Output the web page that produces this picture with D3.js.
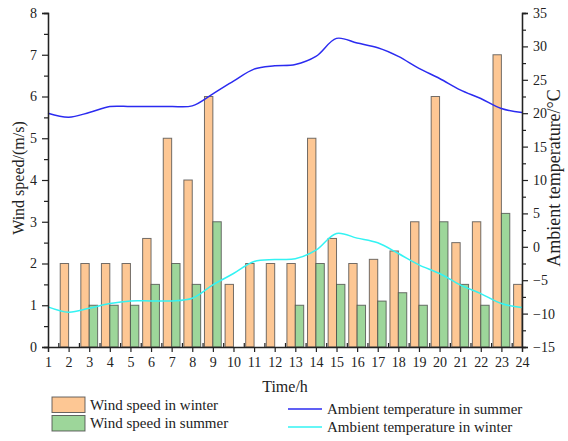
<!DOCTYPE html>
<html>
<head>
<meta charset="utf-8">
<script src="https://cdn.jsdelivr.net/npm/d3@7"></script>
<style>
  html, body { margin: 0; padding: 0; background: #fff; }
</style>
</head>
<body>
<svg id="chart" width="568" height="441"></svg>
<script>
// Hourly data
const hours = d3.range(1, 25);
const windWinter = [0, 2, 2, 2, 2, 2.6, 5, 4, 6, 1.5, 2, 2, 2, 5, 2.6, 2, 2.1, 2.3, 3, 6, 2.5, 3, 7, 1.5];
const windSummer = [0, 0, 1, 1, 1, 1.5, 2, 1.5, 3, 0, 0, 0, 1, 2, 1.5, 1, 1.1, 1.3, 1, 3, 1.5, 1, 3.2, 0];
const tempSummer = [20, 19.4, 20.1, 21, 21, 21, 21, 21.1, 22.9, 24.8, 26.6, 27.1, 27.3, 28.5, 31.2, 30.5, 29.8, 28.5, 26.7, 25.2, 23.5, 22.2, 20.7, 20.1];
const tempWinter = [-9, -9.8, -9.2, -8.5, -8.1, -8.1, -8.1, -7.7, -5.7, -4.0, -2.2, -1.9, -1.8, -0.5, 2.0, 1.3, 0.6, -1.0, -2.7, -4.0, -5.7, -7.0, -8.5, -9.1];
const windTicks = [0, 1, 2, 3, 4, 5, 6, 7, 8];
const tempTicks = [-15, -10, -5, 0, 5, 10, 15, 20, 25, 30, 35];

const FONT = '"Liberation Serif", "Times New Roman", serif';
const svg = d3.select("#chart");
const plotLeft = 48, plotRight = 522, plotTop = 13, plotBottom = 347;

const x = d3.scaleLinear().domain([1, 24]).range([plotLeft, plotRight]);
const yW = d3.scaleLinear().domain([0, 8]).range([plotBottom, plotTop]);
const yT = d3.scaleLinear().domain([-15, 35]).range([plotBottom, plotTop]);
const barW = 8.4;

// Bars: winter sits left of the hour tick, summer right of it
svg.append("g").selectAll("rect").data(hours.filter((h, i) => windWinter[i] > 0)).join("rect")
  .attr("x", h => x(h) - barW)
  .attr("y", h => yW(windWinter[h - 1]))
  .attr("width", barW)
  .attr("height", h => yW(0) - yW(windWinter[h - 1]))
  .attr("fill", "#fdc794")
  .attr("stroke", "#444").attr("stroke-opacity", 0.75).attr("stroke-width", 1);

svg.append("g").selectAll("rect").data(hours.filter((h, i) => windSummer[i] > 0)).join("rect")
  .attr("x", h => x(h))
  .attr("y", h => yW(windSummer[h - 1]))
  .attr("width", barW)
  .attr("height", h => yW(0) - yW(windSummer[h - 1]))
  .attr("fill", "#9dd69a")
  .attr("stroke", "#444").attr("stroke-opacity", 0.75).attr("stroke-width", 1);

// Temperature curves
const line = d3.line().x((d, i) => x(hours[i])).y(d => yT(d)).curve(d3.curveCatmullRom.alpha(0.5));
svg.append("path").datum(tempSummer).attr("d", line)
  .attr("fill", "none").attr("stroke", "#2b2bf0").attr("stroke-width", 1.5);
svg.append("path").datum(tempWinter).attr("d", line)
  .attr("fill", "none").attr("stroke", "#33f3f3").attr("stroke-width", 1.5);

function styleAxis(g) {
  g.selectAll(".domain").attr("stroke", "#222").attr("stroke-width", 1.3);
  g.selectAll(".tick line").attr("stroke", "#222").attr("stroke-width", 1.2);
  g.selectAll("text").style("font-size", "14px").style("font-family", FONT).attr("fill", "#222");
}

// Left axis
const gL = svg.append("g").attr("transform", `translate(${plotLeft},0)`);
gL.call(d3.axisLeft(yW).tickValues(d3.range(0.5, 8, 1)).tickSize(4).tickFormat(""));
gL.append("g").call(d3.axisLeft(yW).tickValues(windTicks).tickSize(6).tickPadding(5));
styleAxis(gL);

// Right axis
const gR = svg.append("g").attr("transform", `translate(${plotRight},0)`);
gR.call(d3.axisRight(yT).tickValues(d3.range(-12.5, 35, 5)).tickSize(4).tickFormat(""));
gR.append("g").call(d3.axisRight(yT).tickValues(tempTicks).tickSize(6).tickPadding(5));
styleAxis(gR);

// Bottom axis: hour ticks downward, half-hour ticks inward
const gB = svg.append("g").attr("transform", `translate(0,${plotBottom})`);
gB.call(d3.axisTop(x).tickValues(d3.range(1.5, 24, 1)).tickSize(4).tickFormat(""));
gB.select(".domain").remove();
gB.append("g").call(d3.axisBottom(x).tickValues(hours).tickSize(5).tickPadding(5).tickFormat(d3.format("d")));
styleAxis(gB);

// Axis titles
function title(sel, size) {
  return sel.style("font-family", FONT).style("font-size", size).attr("fill", "#222");
}
title(svg.append("text").attr("x", 285).attr("y", 392).attr("text-anchor", "middle"), "16px").text("Time/h");
title(svg.append("text").attr("transform", "translate(24,178) rotate(-90)").attr("text-anchor", "middle"), "16px")
  .text("Wind speed/(m/s)");
title(svg.append("text").attr("transform", "translate(560,178) rotate(-90)").attr("text-anchor", "middle"), "18px")
  .text("Ambient temperature/°C");

// Legend
const legBars = [
  { label: "Wind speed in winter", fill: "#fdc794" },
  { label: "Wind speed in summer", fill: "#9dd69a" }
];
const legLines = [
  { label: "Ambient temperature in summer", stroke: "#2b2bf0" },
  { label: "Ambient temperature in winter", stroke: "#33f3f3" }
];
legBars.forEach((d, i) => {
  const yy = 397 + i * 18.5;
  svg.append("rect").attr("x", 52).attr("y", yy).attr("width", 33).attr("height", 15.5)
    .attr("fill", d.fill).attr("stroke", "#444").attr("stroke-opacity", 0.8);
  title(svg.append("text").attr("x", 90).attr("y", yy + 12.5), "15px").text(d.label);
});
legLines.forEach((d, i) => {
  const yy = 409 + i * 18;
  svg.append("line").attr("x1", 288).attr("x2", 322).attr("y1", yy).attr("y2", yy)
    .attr("stroke", d.stroke).attr("stroke-width", 1.5);
  title(svg.append("text").attr("x", 327).attr("y", yy + 5), "15px").text(d.label);
});
</script>
</body>
</html>
